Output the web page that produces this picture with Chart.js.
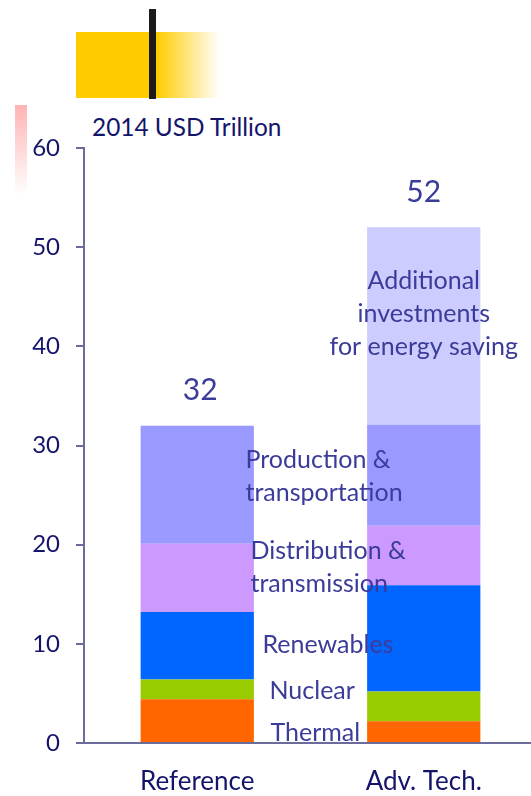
<!DOCTYPE html>
<html>
<head>
<meta charset="utf-8">
<script src="https://cdn.jsdelivr.net/npm/chart.js@4/dist/chart.umd.min.js"></script>
<style>
  html, body { margin: 0; padding: 0; background: #fff; overflow: hidden; width: 531px; height: 796px; }
  #wrap { position: relative; width: 531px; height: 796px; }
  #chart { position: absolute; left: 0; top: 0; }
  .deco { position: absolute; }
  #title { position: absolute; left: 92px; top: 112px; font-family: Lato, sans-serif; font-size: 24.4px; color: #14146b; white-space: nowrap; }
</style>
</head>
<body>
<div id="wrap">
  <div class="deco" style="left:76px;top:32px;width:144px;height:66px;background:linear-gradient(to right,#FFCC00 0%,#FFCC00 56%,rgba(255,204,0,0) 100%);"></div>
  <div class="deco" style="left:149px;top:9px;width:7px;height:90px;background:#1b1b1b;"></div>
  <div class="deco" style="left:15px;top:105px;width:12px;height:90px;background:linear-gradient(to bottom,#ffb3b3,rgba(255,255,255,0));"></div>
  <div id="title">2014 USD Trillion</div>
  <canvas id="chart" width="537" height="796"></canvas>
</div>
<script>
// categories and stacked segments (USD trillion)
const categories = ["Reference", "Adv. Tech."];
const thermal = [4.4, 2.2];
const nuclear = [2.0, 3.0];
const renewables = [6.8, 10.7];
const distribution = [6.9, 6.0];
const production = [11.9, 10.2];
const additional = [0, 19.9];
const yTicks = [0, 10, 20, 30, 40, 50, 60];

const axisColor = "#6c6c9c";
const darkText = "#14146b";
const labelText = "#3b3b99";

// text put on the chart: value = y of first line, dx = offset from gap centre
const segmentLabels = [
    { lines: ["Additional", "investments", "for energy saving"], value: 46.6, cat: 1, align: "center" },
    { lines: ["Production &", "transportation"], value: 28.5, dx: -65, align: "left" },
    { lines: ["Distribution &", "transmission"], value: 19.4, dx: -60, align: "left" },
    { lines: ["Renewables"], value: 9.9, dx: -48, align: "left" },
    { lines: ["Nuclear"], value: 5.2, dx: -41, align: "left" },
    { lines: ["Thermal"], value: 1.0, dx: -40, align: "left" }
];

const textPlugin = {
    id: "textPlugin",
    afterDatasetsDraw(chart) {
        const ctx = chart.ctx;
        const xs = chart.scales.x;
        const ys = chart.scales.y;
        ctx.save();
        ctx.textBaseline = "middle";
        // totals above bars
        ctx.fillStyle = labelText;
        ctx.font = "30px Lato";
        ctx.textAlign = "center";
        categories.forEach((c, i) => {
            const total = thermal[i] + nuclear[i] + renewables[i] + distribution[i] + production[i] + additional[i];
            ctx.fillText(Math.round(total), xs.getPixelForValue(i) + (i == 0 ? 3 : 0), ys.getPixelForValue(total) - 35);
        });
        // segment names
        const mid = (xs.getPixelForValue(0) + xs.getPixelForValue(1)) / 2;
        ctx.font = "25px Lato";
        segmentLabels.forEach(l => {
            ctx.textAlign = l.align;
            const x = l.align == "center" ? xs.getPixelForValue(l.cat) : mid + l.dx;
            const y0 = ys.getPixelForValue(l.value);
            l.lines.forEach((t, k) => ctx.fillText(t, x, y0 + k * 33));
        });
        ctx.restore();
    }
};

const makeSet = (label, data, color) => ({ label: label, data: data, backgroundColor: color, borderWidth: 0 });

new Chart("chart", {
    type: "bar",
    data: {
        labels: categories,
        datasets: [
            makeSet("Thermal", thermal, "#ff6600"),
            makeSet("Nuclear", nuclear, "#99cc00"),
            makeSet("Renewables", renewables, "#0066ff"),
            makeSet("Distribution & transmission", distribution, "#cc99ff"),
            makeSet("Production & transportation", production, "#9999ff"),
            makeSet("Additional investments for energy saving", additional, "#ccccff")
        ]
    },
    options: {
        responsive: false,
        animation: false,
        layout: { padding: { top: 148, left: 0, right: 0, bottom: 0 } },
        plugins: { legend: { display: false }, tooltip: { enabled: false } },
        datasets: { bar: { barPercentage: 1, categoryPercentage: 0.5 } },
        scales: {
            x: {
                stacked: true,
                grid: { display: false },
                border: { display: true, color: axisColor, width: 2 },
                ticks: { color: darkText, font: { family: "Lato", size: 26 }, padding: 15 },
                afterFit: s => { s.height = 53; }
            },
            y: {
                stacked: true,
                min: 0,
                max: 60,
                afterBuildTicks: s => { s.ticks = yTicks.map(v => ({ value: v })); },
                grid: { drawOnChartArea: false, drawTicks: true, tickLength: 8, color: axisColor, lineWidth: 2 },
                border: { display: true, color: axisColor, width: 2 },
                ticks: { color: darkText, font: { family: "Lato", size: 24 }, padding: 16 },
                afterFit: s => { s.width = 84; }
            }
        }
    },
    plugins: [textPlugin]
});
</script>
</body>
</html>
